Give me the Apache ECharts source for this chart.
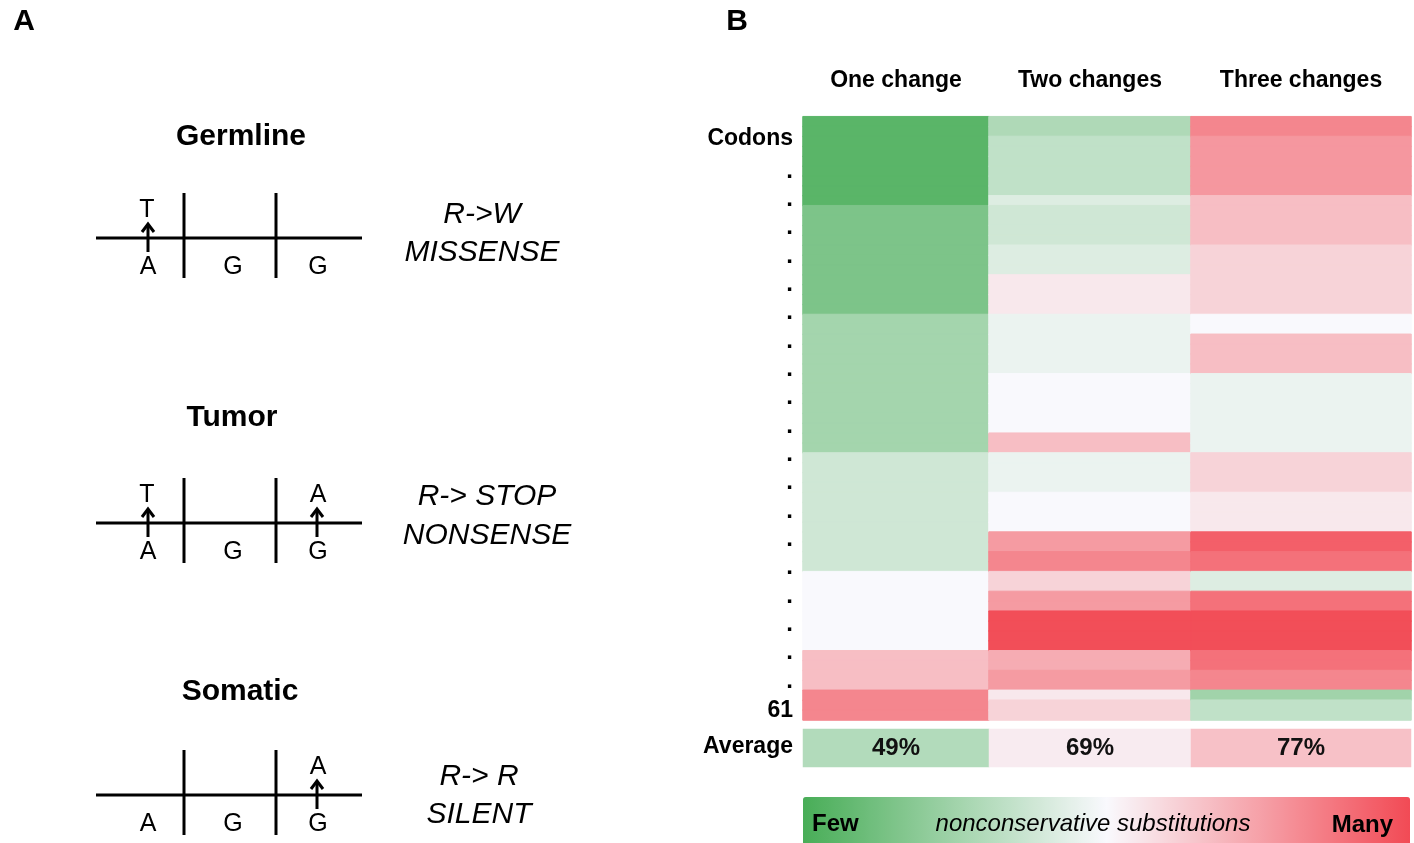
<!DOCTYPE html>
<html>
<head>
<meta charset="utf-8">
<script src="https://cdn.jsdelivr.net/npm/echarts@6/dist/echarts.min.js"></script>
<style>
html,body{margin:0;padding:0;background:#fff;}
#chart{width:1414px;height:843px;}
</style>
</head>
<body>
<div id="chart"></div>
<script>
// ---------- DATA ----------
const columns = ['One change', 'Two changes', 'Three changes'];
// nonconservative-substitution score per codon (0 = few, 100 = many), 61 codons top to bottom
const oneChange = [
  5,5,5,5,5,5,5,5,5,
  15,15,15,15,15,15,15,15,15,15,15,
  26,26,26,26,26,26,26,26,26,26,26,26,26,26,
  38,38,38,38,38,38,38,38,38,38,38,38,
  50,50,50,50,50,50,50,50,
  67,67,67,67,
  83,83,83
];
const twoChanges = [
  29,29,
  34,34,34,34,34,34,
  42,
  38,38,38,38,
  42,42,42,
  55,55,55,55,
  46,46,46,46,46,46,
  50,50,50,50,50,50,
  67,67,
  46,46,46,46,
  50,50,50,50,
  77,77,
  83,83,
  61,61,
  77,77,
  99,99,99,99,
  72,72,
  77,77,
  55,
  61,61
];
const threeChanges = [
  83,83,
  78,78,78,78,78,78,
  67,67,67,67,67,
  61,61,61,61,61,61,61,
  50,50,
  67,67,67,67,
  46,46,46,46,46,46,46,46,
  61,61,61,61,
  55,55,55,55,
  94,94,
  89,89,
  42,42,
  89,89,
  99,99,99,99,
  89,89,
  83,83,
  25,
  34,34
];
const averageValues = [30, 54, 66];
const averageLabels = ['49%', '69%', '77%'];
const rowLabelTop = 'Codons';
const rowLabelBottom = '61';
const dotCount = 19;
const colorStops = ['#48ad57', '#f9f9fd', '#f24a55'];

// ---------- LAYOUT ----------
const FONT = "'Liberation Sans', Arial, Helvetica, sans-serif";
const colLeft = [803, 989, 1191];
const colWidth = [186, 202, 220];
const heatTop = 116.7, heatHeight = 603.3;
const avgTop = 729, avgHeight = 38;
const nRows = oneChange.length;
const rowCats = Array.from({length: nRows}, (_, i) => String(i + 1));
const colData = [oneChange, twoChanges, threeChanges];

// same colour ramp as the visualMap, used only to paint a thin matching border
// on each cell so that adjacent cells show no anti-aliasing seams
function hexToRgb(h) { return [1, 3, 5].map(i => parseInt(h.substr(i, 2), 16)); }
const stopRgb = colorStops.map(hexToRgb);
function rampColor(v) {
  const t = Math.max(0, Math.min(1, v / 100)) * (stopRgb.length - 1);
  const i = Math.min(Math.floor(t), stopRgb.length - 2);
  const f = t - i;
  const a = stopRgb[i], b = stopRgb[i + 1];
  return 'rgb(' + a.map((x, k) => Math.round(x + (b[k] - x) * f)).join(',') + ')';
}
function cell(x, y, v) {
  return {value: [x, y, v], itemStyle: {borderColor: rampColor(v), borderWidth: 1}};
}

const grid = [], xAxis = [], yAxis = [], series = [];
for (let c = 0; c < 3; c++) {
  grid.push({left: colLeft[c], top: heatTop, width: colWidth[c], height: heatHeight});
  xAxis.push({type: 'category', gridIndex: c, data: [columns[c]], show: false});
  yAxis.push({type: 'category', gridIndex: c, data: rowCats, inverse: true, show: false});
  series.push({
    type: 'heatmap', xAxisIndex: c, yAxisIndex: c,
    data: colData[c].map((v, r) => cell(0, r, v)),
    emphasis: {disabled: true}
  });
}
for (let c = 0; c < 3; c++) {
  const g = 3 + c;
  grid.push({left: colLeft[c], top: avgTop, width: colWidth[c], height: avgHeight});
  xAxis.push({type: 'category', gridIndex: g, data: [columns[c]], show: false});
  yAxis.push({type: 'category', gridIndex: g, data: ['Average'], show: false});
  series.push({
    type: 'heatmap', xAxisIndex: g, yAxisIndex: g,
    data: [{value: [0, 0, averageValues[c]], itemStyle: {borderWidth: 0}}],
    emphasis: {disabled: true},
    label: {
      show: true, formatter: () => averageLabels[c],
      fontFamily: FONT, fontWeight: 'bold', fontSize: 24, color: '#111'
    }
  });
}

// ---------- GRAPHIC (panel A + labels) ----------
const graphic = [];
function txt(x, y, s, opt) {
  graphic.push({
    type: 'text', x: x, y: y, z: 100,
    style: Object.assign({
      text: s, fill: '#000', fontFamily: FONT, fontSize: 24,
      align: 'center', verticalAlign: 'middle'
    }, opt || {})
  });
}
function seg(x1, y1, x2, y2) {
  graphic.push({type: 'line', z: 100, shape: {x1, y1, x2, y2},
    style: {stroke: '#000', lineWidth: 3}});
}
function arrow(x, L) {
  seg(x, L + 14, x, L - 13);
  graphic.push({type: 'polyline', z: 100,
    shape: {points: [[x - 6, L - 6], [x, L - 14], [x + 6, L - 6]]},
    style: {stroke: '#000', lineWidth: 3, fill: null}});
}
// panel letters
txt(24, 22, 'A', {fontWeight: 'bold', fontSize: 30});
txt(737, 22, 'B', {fontWeight: 'bold', fontSize: 30});

const diagrams = [
  {title: 'Germline', tx: 241, ty: 137, L: 238, top: ['T', null], arrows: [148],
   right: ['R->W', 'MISSENSE'], rx: 482, ry: [215, 253]},
  {title: 'Tumor', tx: 232, ty: 418, L: 523, top: ['T', 'A'], arrows: [148, 317],
   right: ['R-> STOP', 'NONSENSE'], rx: 487, ry: [497, 536]},
  {title: 'Somatic', tx: 240, ty: 692, L: 795, top: [null, 'A'], arrows: [317],
   right: ['R-> R', 'SILENT'], rx: 479, ry: [777, 815]}
];
diagrams.forEach(d => {
  txt(d.tx, d.ty, d.title, {fontWeight: 'bold', fontSize: 30});
  seg(96, d.L, 362, d.L);
  seg(184, d.L - 45, 184, d.L + 40);
  seg(276, d.L - 45, 276, d.L + 40);
  txt(148, d.L + 29, 'A', {fontSize: 25});
  txt(233, d.L + 29, 'G', {fontSize: 25});
  txt(318, d.L + 29, 'G', {fontSize: 25});
  if (d.top[0]) txt(147, d.L - 28, d.top[0], {fontSize: 25});
  if (d.top[1]) txt(318, d.L - 28, d.top[1], {fontSize: 25});
  d.arrows.forEach(x => arrow(x, d.L));
  txt(d.rx, d.ry[0], d.right[0], {fontStyle: 'italic', fontSize: 30});
  txt(d.rx, d.ry[1], d.right[1], {fontStyle: 'italic', fontSize: 30});
});

// column headers
columns.forEach((c, i) => {
  txt(colLeft[i] + colWidth[i] / 2, 81, c, {fontWeight: 'bold', fontSize: 23});
});
// row labels
txt(793, 139, rowLabelTop, {fontWeight: 'bold', fontSize: 23, align: 'right'});
for (let i = 0; i < dotCount; i++) {
  const y = 178 + i * (688 - 178) / (dotCount - 1);
  txt(793, y - 7, '.', {fontWeight: 'bold', fontSize: 24, align: 'right'});
}
txt(793, 711, rowLabelBottom, {fontWeight: 'bold', fontSize: 23, align: 'right'});
txt(793, 747, 'Average', {fontWeight: 'bold', fontSize: 23, align: 'right'});
// colour bar texts
txt(812, 824, 'Few', {fontWeight: 'bold', fontSize: 24, align: 'left'});
txt(1093, 824, 'nonconservative substitutions', {fontStyle: 'italic', fontSize: 24});
txt(1393, 825, 'Many', {fontWeight: 'bold', fontSize: 24, align: 'right'});

const chart = echarts.init(document.getElementById('chart'), null, {renderer: 'canvas'});
chart.setOption({
  animation: false,
  backgroundColor: '#fff',
  grid: grid,
  xAxis: xAxis,
  yAxis: yAxis,
  visualMap: {
    type: 'continuous',
    min: 0, max: 100,
    seriesIndex: [0, 1, 2, 3, 4, 5],
    orient: 'horizontal',
    left: 803, top: 797,
    itemWidth: 52, itemHeight: 607,
    padding: 0,
    calculable: false,
    hoverLink: false,
    inRange: {color: colorStops}
  },
  series: series,
  graphic: graphic
});
</script>
</body>
</html>
